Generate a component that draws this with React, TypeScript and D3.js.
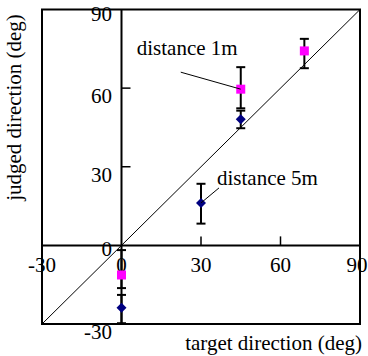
import React from "react";
import * as d3 from "d3";

// readings (degrees)
const tickValues = [-30, 0, 30, 60, 90];
const innerTicks = [30, 60];

const near = [
  { target: 0, judged: -11.3, low: -16.3, high: -1.8 },
  { target: 45, judged: 59.6, low: 52.3, high: 68.0 },
  { target: 69, judged: 74.2, low: 67.6, high: 78.8 },
];

const far = [
  { target: 0, judged: -23.8, low: -29.7, high: -18.9 },
  { target: 30, judged: 16.2, low: 8.3, high: 23.5 },
  { target: 45, judged: 48.1, low: 44.7, high: 51.4 },
];

const notes = [
  { label: "distance 1m", series: near, index: 1, tx: -104, ty: -34, lx: -60, ly: -17 },
  { label: "distance 5m", series: far, index: 1, tx: 16, ty: -18, lx: 18, ly: -15 },
];

const W = 368;
const H = 356;
const font = '"Liberation Serif", "Times New Roman", serif';

const App = () => {
  const x = d3.scaleLinear().domain([-30, 90]).range([42, 360]);
  const y = d3.scaleLinear().domain([-30, 90]).range([324, 9.5]);
  const x0 = x(0);
  const y0 = y(0);
  const cap = 4.5;

  const errorBars = (rows) =>
    rows.map((d, i) => (
      <g key={i} stroke="#000" strokeWidth={2}>
        <line x1={x(d.target)} x2={x(d.target)} y1={y(d.low)} y2={y(d.high)} />
        <line x1={x(d.target) - cap} x2={x(d.target) + cap} y1={y(d.low)} y2={y(d.low)} />
        <line x1={x(d.target) - cap} x2={x(d.target) + cap} y1={y(d.high)} y2={y(d.high)} />
      </g>
    ));

  return (
    <svg
      width={W}
      height={H}
      style={{ position: "absolute", left: 0, top: 0, background: "#fff" }}
      fontFamily={font}
      fontSize={21}
    >
      {/* diagonal */}
      <line x1={x(-30)} y1={y(-30)} x2={x(90)} y2={y(90)} stroke="#000" strokeWidth={1} />

      {/* zero axes */}
      <line x1={x(-30)} x2={x(90)} y1={y0} y2={y0} stroke="#000" strokeWidth={2} />
      <line x1={x0} x2={x0} y1={y(-30)} y2={y(90)} stroke="#000" strokeWidth={2} />

      {innerTicks.map((t) => (
        <g key={t} stroke="#000" strokeWidth={1.5}>
          <line x1={x(t)} x2={x(t)} y1={y0} y2={y0 - 9} />
          <line x1={x0} x2={x0 + 9} y1={y(t)} y2={y(t)} />
        </g>
      ))}

      {/* tick labels */}
      {tickValues.map((t) => (
        <text key={"x" + t} x={Math.min(x(t), W - 11)} y={y0 + 27} textAnchor="middle">
          {t}
        </text>
      ))}
      {tickValues.map((t) => (
        <text key={"y" + t} x={112} y={y(t) + (t === 0 || t === 90 ? 11 : 15)} textAnchor="end">
          {t}
        </text>
      ))}

      {/* frame */}
      <rect
        x={x(-30)}
        y={y(90)}
        width={x(90) - x(-30)}
        height={y(-30) - y(90)}
        fill="none"
        stroke="#000"
        strokeWidth={2}
      />

      {errorBars(near)}
      {errorBars(far)}

      {near.map((d, i) => (
        <rect key={i} x={x(d.target) - 4.5} y={y(d.judged) - 4.5} width={9} height={9} fill="#FF00FF" />
      ))}
      {far.map((d, i) => (
        <path
          key={i}
          transform={`translate(${x(d.target)},${y(d.judged)})`}
          d="M0,-5L5,0L0,5L-5,0Z"
          fill="#000080"
        />
      ))}

      {/* annotations */}
      {notes.map((n) => {
        const p = n.series[n.index];
        const px = x(p.target);
        const py = y(p.judged);
        return (
          <g key={n.label}>
            <line x1={px + n.lx} y1={py + n.ly} x2={px} y2={py} stroke="#000" strokeWidth={1} />
            <text x={px + n.tx} y={py + n.ty}>
              {n.label}
            </text>
          </g>
        );
      })}

      {/* axis titles */}
      <text x={362} y={350} textAnchor="end">
        target direction (deg)
      </text>
      <text transform="translate(21,107.5) rotate(-90)" textAnchor="middle">
        judged direction (deg)
      </text>
    </svg>
  );
};

export default App;
